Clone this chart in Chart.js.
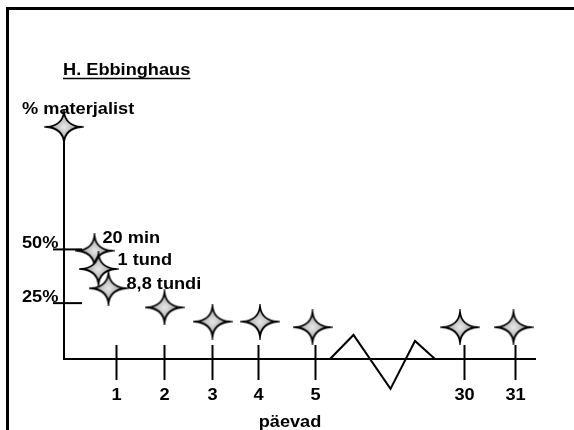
<!DOCTYPE html>
<html>
<head>
<meta charset="utf-8">
<script src="https://cdn.jsdelivr.net/npm/chart.js@4.4.1/dist/chart.umd.min.js"></script>
<style>
    html, body { margin: 0; padding: 0; background: #fff; }
    #wrap { width: 574px; height: 430px; position: relative; }
</style>
</head>
<body>
<div id="wrap"><canvas id="curve"></canvas></div>
<script>
// --- DATA ---
// x is a position on the schematic time axis (one slot per day, break after day 5)
const pointNames = ['0', '20 min', '1 tund', '8,8 tundi', '2', '3', '4', '5', '30', '31'];
const xSlots = [0, 0.61, 0.69, 0.89, 2.01, 2.97, 3.92, 4.97, 7.92, 8.99];
const retention = [107, 49.4, 40.9, 31.9, 23.0, 16.4, 16.4, 13.8, 13.8, 13.8];

const dayTicks = [1.03, 2.0, 2.95, 3.87, 5.02, 7.99, 9.02];
const dayLabels = ['1', '2', '3', '4', '5', '30', '31'];
const pctTicks = [25, 50];
const pctLabels = ['25%', '50%'];

const noteIndex = [1, 2, 3];
const noteTexts = ['20 min', '1 tund', '8,8 tundi'];

const breakX = [5.32, 5.79, 6.53, 7.02, 7.42];
const breakY = [-1, 10.2, -14.9, 7.4, -1];

// --- HELPERS ---
const FONT = 'bold 17px "Liberation Sans", Arial, sans-serif';
const STRETCH = 1.07;

const makeStar = () => {
    const c = document.createElement('canvas');
    c.width = 40; c.height = 36;
    const g = c.getContext('2d');
    const cx = 20, cy = 18, rx = 17, ry = 15, w = 1.6;
    g.beginPath();
    g.moveTo(cx + rx, cy);
    g.quadraticCurveTo(cx + w, cy - w, cx, cy - ry);
    g.quadraticCurveTo(cx - w, cy - w, cx - rx, cy);
    g.quadraticCurveTo(cx - w, cy + w, cx, cy + ry);
    g.quadraticCurveTo(cx + w, cy + w, cx + rx, cy);
    g.closePath();
    const grad = g.createRadialGradient(cx, cy, 0, cx, cy, 9);
    grad.addColorStop(0, '#e8e8e8');
    grad.addColorStop(1, '#b8b8b8');
    g.fillStyle = grad;
    g.fill();
    g.lineWidth = 1.8;
    g.strokeStyle = '#000';
    g.stroke();
    return c;
};

const drawText = (ctx, str, x, y, align = 'left') => {
    ctx.save();
    ctx.translate(x, y);
    ctx.scale(STRETCH, 1);
    ctx.font = FONT;
    ctx.fillStyle = '#000';
    ctx.textAlign = align;
    ctx.textBaseline = 'alphabetic';
    ctx.fillText(str, 0, 0);
    const w = ctx.measureText(str).width * STRETCH;
    ctx.restore();
    return w;
};

const line = (ctx, x1, y1, x2, y2, lw = 2) => {
    ctx.beginPath();
    ctx.lineWidth = lw;
    ctx.strokeStyle = '#000';
    ctx.moveTo(x1, y1);
    ctx.lineTo(x2, y2);
    ctx.stroke();
};

// --- DIAGRAM PLUGIN ---
const diagramPlugin = {
    id: 'diagram',
    beforeDatasetsDraw(chart) {
        const { ctx, chartArea: a, scales: { x, y } } = chart;
        ctx.save();
        // frame
        ctx.fillStyle = '#000';
        ctx.fillRect(6, 7, 568, 3);
        ctx.fillRect(6, 7, 3, 423);

        // axes
        line(ctx, a.left, y.getPixelForValue(retention[0]), a.left, a.bottom + 1);
        line(ctx, a.left - 1, a.bottom, a.right, a.bottom);

        // day ticks
        dayTicks.forEach((t, i) => {
            const px = Math.round(x.getPixelForValue(t)) + 0.5;
            line(ctx, px, a.bottom - 14, px, a.bottom + 21);
            drawText(ctx, dayLabels[i], px, 400, 'center');
        });

        // percent ticks
        pctTicks.forEach((t, i) => {
            const py = y.getPixelForValue(t);
            line(ctx, 53, py, 82, py);
            drawText(ctx, pctLabels[i], 22, py - 1.5);
        });

        // titles
        const tw = drawText(ctx, 'H. Ebbinghaus', 63, 75);
        line(ctx, 63, 78.5, 63 + tw, 78.5, 1.5);
        drawText(ctx, '% materjalist', 22, 114);
        drawText(ctx, 'päevad', 290, 427, 'center');
        ctx.restore();
    },
    afterDatasetsDraw(chart) {
        const { ctx, scales: { x, y } } = chart;
        const offs = [[8, -8], [19, -4], [18, 1]];
        ctx.save();
        noteIndex.forEach((idx, i) => {
            const px = x.getPixelForValue(xSlots[idx]);
            const py = y.getPixelForValue(retention[idx]);
            drawText(ctx, noteTexts[i], px + offs[i][0], py + offs[i][1]);
        });
        ctx.restore();
    }
};

// --- CHART ---
document.addEventListener('DOMContentLoaded', () => {
    const star = makeStar();
    const points = xSlots.map((v, i) => ({ x: v, y: retention[i], name: pointNames[i] }));
    const zigzag = breakX.map((v, i) => ({ x: v, y: breakY[i] }));

    new Chart(document.getElementById('curve'), {
        type: 'scatter',
        data: {
            datasets: [
                {
                    label: 'unustamiskõver',
                    data: points,
                    pointStyle: star,
                    pointRadius: 17,
                    clip: false
                },
                {
                    label: 'katkestus',
                    data: zigzag,
                    showLine: true,
                    borderColor: '#000',
                    borderWidth: 2,
                    pointRadius: 0,
                    clip: false,
                    order: 1
                }
            ]
        },
        options: {
            responsive: true,
            maintainAspectRatio: false,
            animation: false,
            events: [],
            layout: { padding: { left: 64, right: 38, top: 99, bottom: 71 } },
            scales: {
                x: { type: 'linear', display: false, min: 0, max: 9.44 },
                y: { type: 'linear', display: false, min: -1, max: 120 }
            },
            plugins: {
                legend: { display: false },
                tooltip: { enabled: false }
            }
        },
        plugins: [diagramPlugin]
    });
});
</script>
</body>
</html>
